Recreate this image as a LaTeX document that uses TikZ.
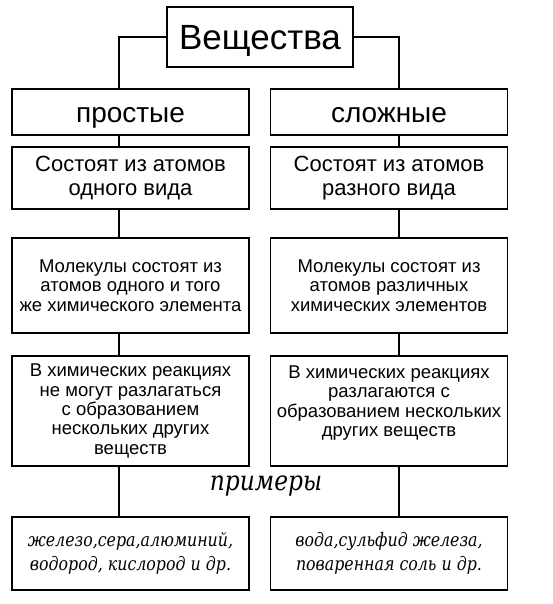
\documentclass[tikz,border=0pt]{standalone}
\usepackage{fontspec}
\setmainfont{Liberation Sans}
\newfontfamily\primfont{DejaVu Serif}[FakeStretch=0.85]
\usetikzlibrary{calc}

\begin{document}
\begin{tikzpicture}[x=1pt,y=-1pt,
  box/.style={draw,line width=1.5pt,inner sep=0pt,align=center,minimum width=237pt},
  small/.style={font=\fontsize{18.5}{19.4}\selectfont},
  ital/.style={font=\primfont\itshape\fontsize{18.6}{24}\selectfont},
  link/.style={-,line width=1.4pt}]
\useasboundingbox (0,0) rectangle (553,604);

%%%top
\node[box,minimum width=186pt,minimum height=60pt,text height=25pt,text depth=0pt,font=\fontsize{35}{40}\selectfont] (subst) at (260,37) {Вещества};

%%%simple substances
\node[box,minimum height=46pt,text height=22pt,text depth=0pt,font=\fontsize{28}{30}\selectfont] (prost) at (130.5,112) {простые};
\node[box,minimum height=62pt,font=\fontsize{22}{23.3}\selectfont] (atomL) at (130.5,178) {Состоят из атомов\\одного вида};
\node[box,small,minimum height=95pt] (molL) at (130.5,285.5) {Молекулы состоят из\\атомов одного и того\\же химического элемента};
\node[box,small,minimum height=110pt] (reakL) at (130.5,411) {В химических реакциях\\не могут разлагаться\\с образованием\\нескольких других\\веществ};
\node[box,ital,minimum height=73pt] (exL) at (130.5,553.5) {железо,сера,алюминий,\\водород, кислород и др.};

%%%complex substances
\node[box,minimum height=46pt,text height=22pt,text depth=0pt,font=\fontsize{28}{30}\selectfont] (slozh) at (389,112) {сложные};
\node[box,minimum height=62pt,font=\fontsize{22}{23.3}\selectfont] (atomR) at (389,178) {Состоят из атомов\\разного вида};
\node[box,small,minimum height=95pt] (molR) at (389,285.5) {Молекулы состоят из\\атомов различных\\химических элементов};
\node[box,minimum height=110pt] (reakR) at (389,411) {};
\node[small,align=center,inner sep=0pt] (reakRtxt) at (389,403) {В химических реакциях\\разлагаются с\\образованием нескольких\\других веществ};
\node[box,ital,minimum height=73pt] (exR) at (389,553.5) {вода,сульфид железа,\\поваренная соль и др.};

\node[font=\primfont\itshape\fontsize{27.5}{30}\selectfont] (prim) at (266,486) {примеры};

%%%connectors
\coordinate (cl) at (119,0);
\coordinate (cr) at (399,0);
\draw[link] (subst.west) -| (cl |- prost.north);
\draw[link] (subst.east) -| (cr |- slozh.north);
\draw[link] (cl |- prost.south) -- (cl |- atomL.north);
\draw[link] (cl |- atomL.south) -- (cl |- molL.north);
\draw[link] (cl |- molL.south) -- (cl |- reakL.north);
\draw[link] (cl |- reakL.south) -- (cl |- exL.north);
\draw[link] (cr |- slozh.south) -- (cr |- atomR.north);
\draw[link] (cr |- atomR.south) -- (cr |- molR.north);
\draw[link] (cr |- molR.south) -- (cr |- reakR.north);
\draw[link] (cr |- reakR.south) -- (cr |- exR.north);

\end{tikzpicture}
\end{document}
